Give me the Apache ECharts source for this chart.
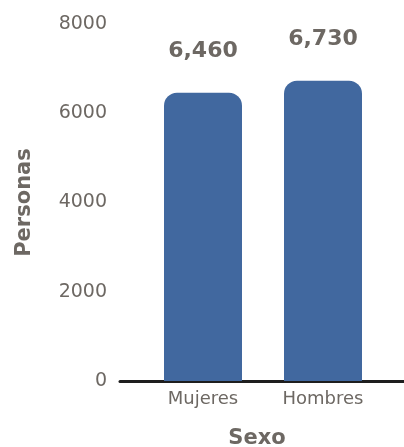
<!DOCTYPE html>
<html>
<head>
<meta charset="utf-8">
<script src="https://cdn.jsdelivr.net/npm/echarts@6/dist/echarts.min.js"></script>
<style>
  html, body { margin: 0; padding: 0; background: #fff; }
  #chart { width: 404px; height: 447px; }
</style>
</head>
<body>
<div id="chart"></div>
<script>
const categories = ["Mujeres", "Hombres"];
const personas = [6460, 6730];
const yTicks = [0, 2000, 4000, 6000, 8000];

const textColor = "#6d6863";
const font = "'DejaVu Sans', sans-serif";

const myChart = echarts.init(document.getElementById("chart"));

const option = {
  animation: false,
  grid: [
    { left: 143, right: 21, top: 24, bottom: 66, outerBoundsMode: "none" },
    // wider grid only used to draw the long baseline
    { left: 120, right: 0, top: 24, bottom: 66, outerBoundsMode: "none" }
  ],
  xAxis: [
    {
      type: "category",
      gridIndex: 0,
      data: categories,
      name: "Sexo",
      nameLocation: "middle",
      nameGap: 47,
      nameTextStyle: { color: textColor, fontSize: 21, fontWeight: "bold", fontFamily: font, padding: [0, 12, 0, 0] },
      axisLine: { show: false },
      axisTick: { show: false },
      axisLabel: { color: textColor, fontSize: 18, fontFamily: font, margin: 9 }
    },
    {
      type: "category",
      gridIndex: 1,
      data: categories,
      axisLine: { show: true, lineStyle: { color: "#1e1e1e", width: 3 } },
      axisTick: { show: false },
      axisLabel: { show: false }
    }
  ],
  yAxis: [
    {
      type: "value",
      gridIndex: 0,
      min: yTicks[0],
      max: yTicks[yTicks.length - 1],
      interval: 2000,
      name: "Personas",
      nameLocation: "middle",
      nameGap: 108,
      nameTextStyle: { color: textColor, fontSize: 21, fontWeight: "bold", fontFamily: font },
      axisLine: { show: false },
      axisTick: { show: false },
      splitLine: { show: false },
      axisLabel: {
        color: textColor,
        fontSize: 19,
        fontFamily: font,
        margin: 36,
        formatter: v => String(v)
      }
    },
    {
      type: "value",
      gridIndex: 1,
      min: 0,
      max: 8000,
      show: false
    }
  ],
  series: [
    {
      type: "bar",
      xAxisIndex: 0,
      yAxisIndex: 0,
      data: personas,
      barCategoryGap: "35%",
      itemStyle: { color: "#41689f", borderRadius: [13, 13, 0, 0] },
      label: {
        show: true,
        position: "top",
        distance: 30,
        color: textColor,
        fontSize: 22,
        fontWeight: "bold",
        fontFamily: font,
        formatter: p => p.value.toLocaleString("en-US")
      }
    }
  ]
};
option && myChart.setOption(option);
</script>
</body>
</html>
